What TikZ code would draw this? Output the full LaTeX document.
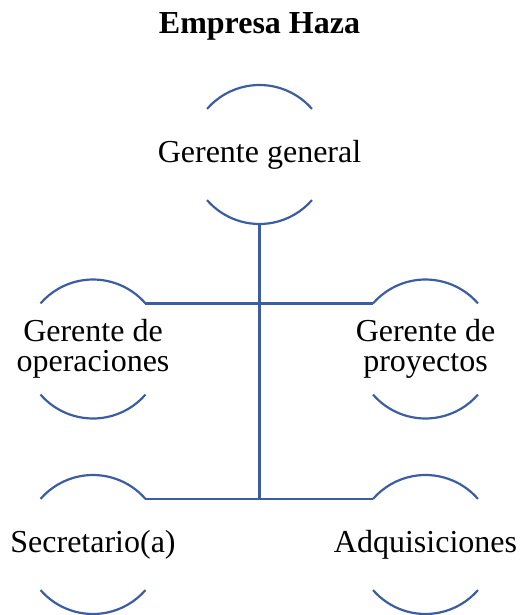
\documentclass[tikz,border=0pt]{standalone}
\usepackage{fontspec}
\setmainfont{Liberation Serif}
\definecolor{azulorg}{RGB}{59,94,162}
\tikzset{
  cargo/.style={circle, minimum size=69.5pt, inner sep=0pt, outer sep=0pt},
  texto/.style={align=center, inner sep=0pt, font=\fontsize{16}{15}\selectfont},
  linea/.style={draw=azulorg, line width=1.1pt}
}
\begin{document}
\begin{tikzpicture}
[x=0.5pt, y=-0.5pt]
\useasboundingbox (0,0) rectangle (521,615);
\node [texto, font=\fontsize{16}{15}\selectfont\bfseries] (titulo) at (259.5,26) {Empresa Haza};
\node [cargo, label={[texto]center:Gerente general}] (gg) at (259.5,154.5) {};
\node [cargo, label={[texto]center:Gerente de\\operaciones}] (ops) at (93,349) {};
\node [cargo, label={[texto]center:Gerente de\\proyectos}] (proy) at (425.5,349) {};
\node [cargo, label={[texto]center:Secretario(a)}] (sec) at (93,544.5) {};
\node [cargo, label={[texto]center:Adquisiciones}] (adq) at (425.5,544.5) {};
% arcos de cada cargo
\foreach \n in {gg,ops,proy,sec,adq}
  \draw [linea] (\n.41) arc [start angle=41, end angle=139, radius=34.75pt]
                (\n.221) arc [start angle=221, end angle=319, radius=34.75pt];
% conectores
\draw [linea] (gg.south) -- (gg.south |- sec.41);
\draw [linea] (ops.41) -- (proy.139);
\draw [linea] (sec.41) -- (adq.139);
\end{tikzpicture}
\end{document}
